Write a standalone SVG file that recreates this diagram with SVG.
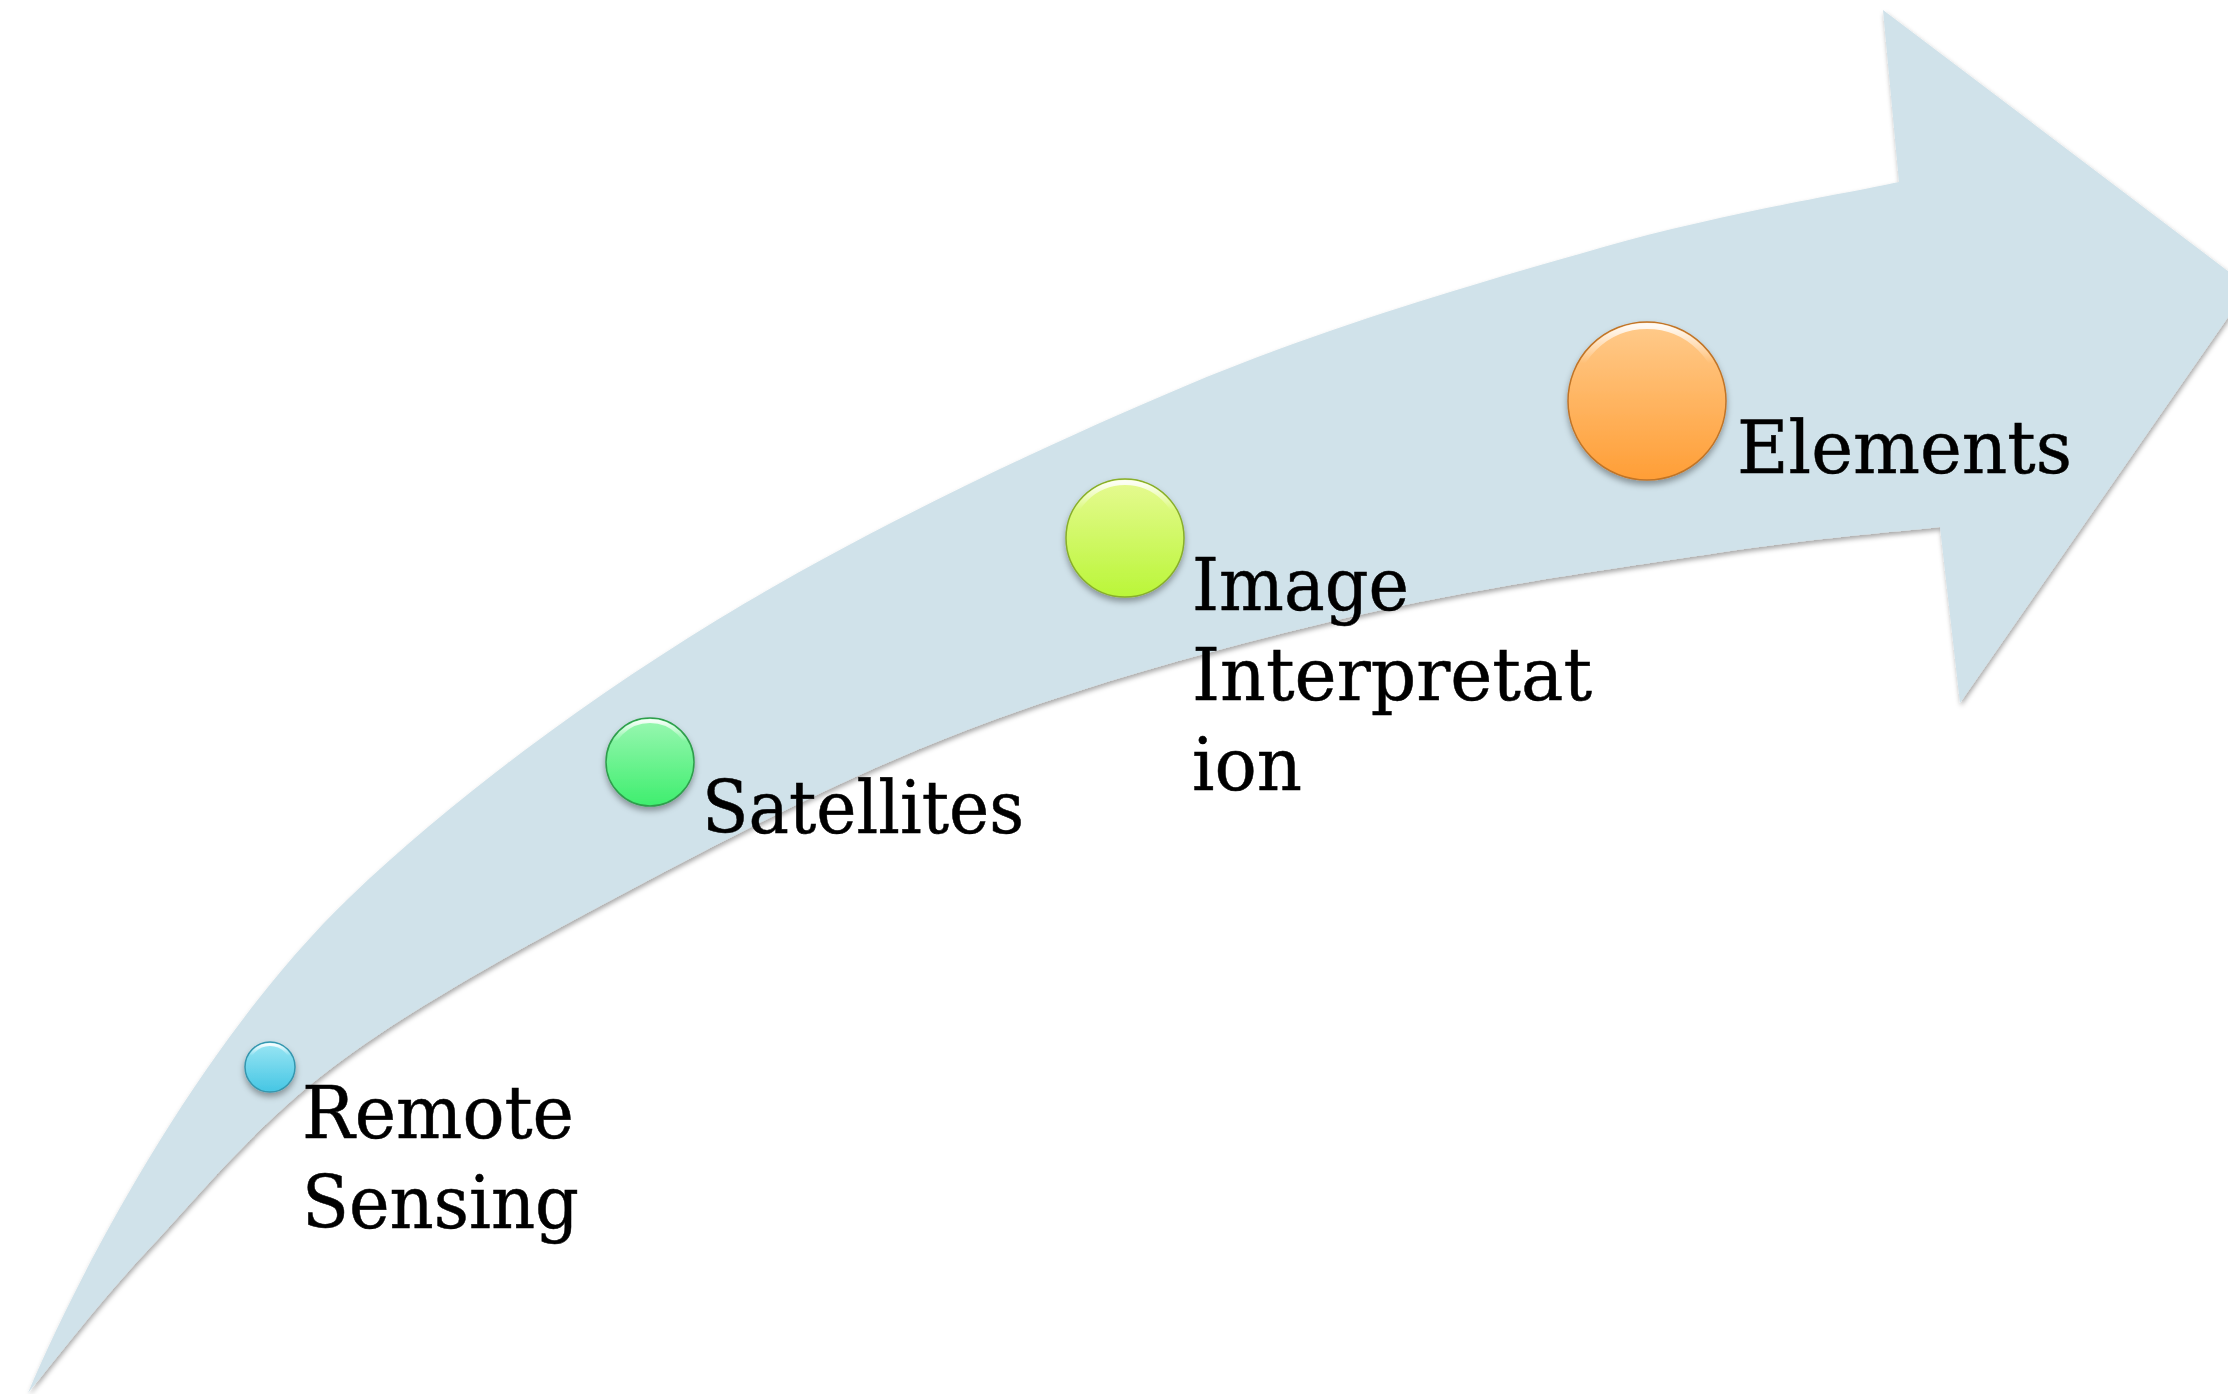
<svg xmlns="http://www.w3.org/2000/svg" width="2228" height="1394" viewBox="0 0 2228 1394">
<defs>
<style>
.lbl{font-family:"DejaVu Serif","Liberation Serif",serif;font-size:72px;fill:#000;stroke:#000;stroke-width:0.5;}
.btn{stroke-width:1.5;}
</style>
<filter id="arrowShadow" x="-5%" y="-5%" width="110%" height="110%">
<feDropShadow dx="1" dy="3" stdDeviation="2.5" flood-color="#000" flood-opacity="0.35"/>
</filter>
<filter id="btnShadow" x="-30%" y="-30%" width="160%" height="170%">
<feDropShadow dx="0" dy="4" stdDeviation="3" flood-color="#000" flood-opacity="0.35"/>
</filter>
<linearGradient id="gBlue" x1="0" y1="0" x2="0" y2="1">
<stop offset="0" stop-color="#9BE6F4"/><stop offset="1" stop-color="#45C6E4"/>
</linearGradient>
<linearGradient id="gGreen" x1="0" y1="0" x2="0" y2="1">
<stop offset="0" stop-color="#9AF7B2"/><stop offset="1" stop-color="#3EEE6E"/>
</linearGradient>
<linearGradient id="gLime" x1="0" y1="0" x2="0" y2="1">
<stop offset="0" stop-color="#E6FA92"/><stop offset="1" stop-color="#BAF638"/>
</linearGradient>
<linearGradient id="gOrange" x1="0" y1="0" x2="0" y2="1">
<stop offset="0" stop-color="#FFCB8C"/><stop offset="1" stop-color="#FF9E36"/>
</linearGradient>
<linearGradient id="gHi" x1="0" y1="0" x2="0" y2="1">
<stop offset="0" stop-color="#fff" stop-opacity="0.9"/><stop offset="0.25" stop-color="#fff" stop-opacity="0"/>
</linearGradient>
</defs>
<rect width="2228" height="1394" fill="#fff"/>
<g id="connectors">
<path id="arrow" filter="url(#arrowShadow)" fill="#D0E2EA" d="M28,1393 C87,1254 208,1033 350,897 C447.3,803.7 578.2,705 717,620 C855.8,535 1035.8,449 1183,387 C1330.2,325 1480.7,282.2 1600,248 C1719.3,213.8 1849.2,193 1899,182 L1883,10 L2249,287 L1960,703 L1940,527 C1902.8,531.3 1815.3,538 1717,553 C1618.7,568 1475,587.5 1350,617 C1225,646.5 1089.2,683.3 967,730 C844.8,776.7 722.7,840.8 617,897 C511.3,953.2 411.2,1008.2 333,1067 C254.8,1125.8 198.8,1195.7 148,1250 C97.2,1304.3 48,1369.2 28,1393 Z"/>
</g>
<g id="node-remote-sensing">
<circle class="btn" cx="270" cy="1067" r="25" fill="url(#gBlue)" stroke="#3596AE" filter="url(#btnShadow)"/>
<circle cx="270" cy="1067" r="22.5" fill="none" stroke="url(#gHi)" stroke-width="3"/>
<text class="lbl" x="302" y="1138" textLength="272" lengthAdjust="spacingAndGlyphs">Remote</text>
<text class="lbl" x="302" y="1228" textLength="277" lengthAdjust="spacingAndGlyphs">Sensing</text>
</g>
<g id="node-satellites">
<circle class="btn" cx="650" cy="762" r="44" fill="url(#gGreen)" stroke="#2E9E4C" filter="url(#btnShadow)"/>
<circle cx="650" cy="762" r="41" fill="none" stroke="url(#gHi)" stroke-width="4"/>
<text class="lbl" x="702" y="833" textLength="322" lengthAdjust="spacingAndGlyphs">Satellites</text>
</g>
<g id="node-image-interpretation">
<circle class="btn" cx="1125" cy="538" r="59" fill="url(#gLime)" stroke="#88AE2A" filter="url(#btnShadow)"/>
<circle cx="1125" cy="538" r="55.5" fill="none" stroke="url(#gHi)" stroke-width="5"/>
<text class="lbl" x="1192" y="610" textLength="217" lengthAdjust="spacingAndGlyphs">Image</text>
<text class="lbl" x="1192" y="700" textLength="400" lengthAdjust="spacingAndGlyphs">Interpretat</text>
<text class="lbl" x="1192" y="790" textLength="110" lengthAdjust="spacingAndGlyphs">ion</text>
</g>
<g id="node-elements">
<circle class="btn" cx="1647" cy="401" r="79" fill="url(#gOrange)" stroke="#C07428" filter="url(#btnShadow)"/>
<circle cx="1647" cy="401" r="75" fill="none" stroke="url(#gHi)" stroke-width="6"/>
<text class="lbl" x="1737" y="473" textLength="335" lengthAdjust="spacingAndGlyphs">Elements</text>
</g>
</svg>
